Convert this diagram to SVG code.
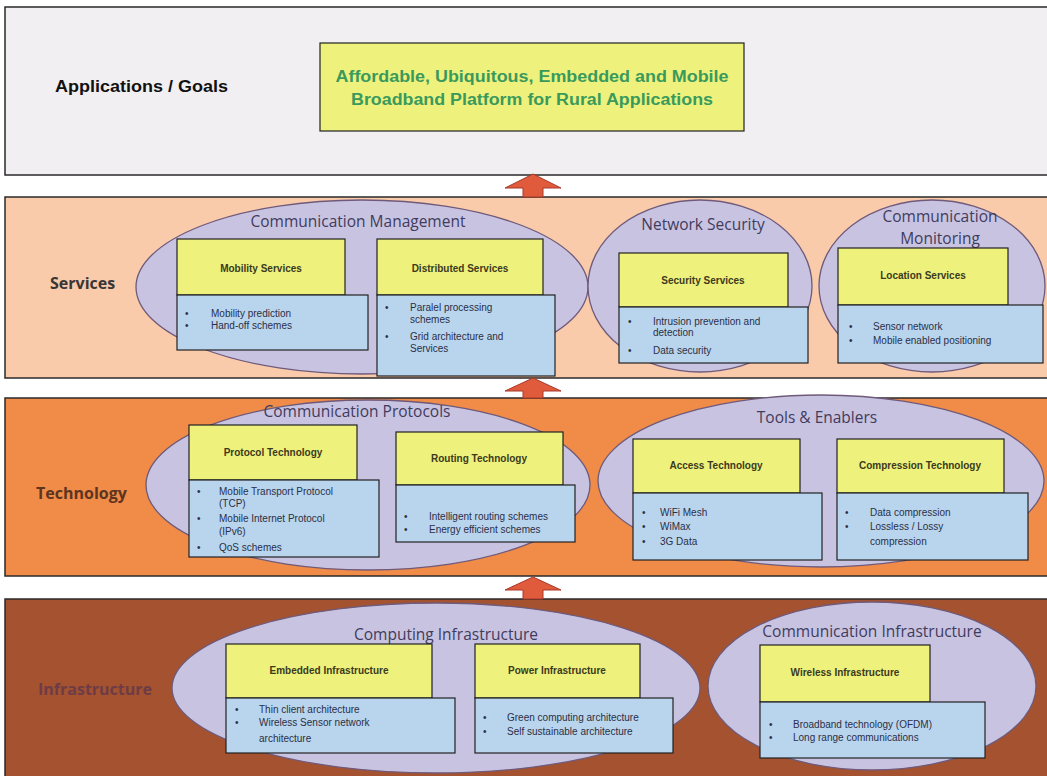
<svg xmlns="http://www.w3.org/2000/svg" width="1047" height="776" viewBox="0 0 1047 776">
  <style>
    .band { stroke: #2a2a2a; stroke-width: 1.5; }
    .cloud { fill: #c9c3e2; stroke: #6f5a7a; stroke-width: 1.3; }
    .cloud-label { font-family: "Open Sans", "Noto Sans", sans-serif; font-size: 15.5px; fill: #3f3c5c; text-anchor: middle; }
    .layer { font-family: "Open Sans", "Noto Sans", sans-serif; font-weight: bold; font-size: 16px; }
    .head { fill: #eef17c; stroke: #222; stroke-width: 1.2; }
    .head-text { font-family: "Liberation Sans", Arial, sans-serif; font-weight: bold; font-size: 10px; fill: #3b3a1c; text-anchor: middle; }
    .list { fill: #b9d5ee; stroke: #222; stroke-width: 1.2; }
    .item { font-family: "Liberation Sans", Arial, sans-serif; font-size: 10px; fill: #2b2f45; }
    .arrow { fill: #e05a3c; stroke: #a8382a; stroke-width: 1; }
  </style>

  <rect width="1047" height="776" fill="#ffffff"/>

  <!-- layer bands -->
  <g id="band-goals">
    <rect class="band" x="5" y="7" width="1050" height="168" fill="#f1eff1"/>
    <text x="55" y="92" font-family="Liberation Sans, Arial, sans-serif" font-weight="bold" font-size="17" fill="#111" textLength="173" lengthAdjust="spacingAndGlyphs">Applications / Goals</text>
  </g>
  <g id="band-services">
    <rect class="band" x="5" y="197" width="1050" height="181" fill="#f9cbab"/>
    <text class="layer" x="50" y="289" fill="#3a3636">Services</text>
  </g>
  <g id="band-technology">
    <rect class="band" x="5" y="398" width="1050" height="178" fill="#f08b48"/>
    <text class="layer" x="36" y="499" fill="#5c3520">Technology</text>
  </g>
  <g id="band-infrastructure">
    <rect class="band" x="5" y="599" width="1050" height="190" fill="#a4522f"/>
    <text class="layer" x="38" y="695" fill="#6e3c46" font-size="15">Infrastructure</text>
  </g>

  <!-- goal box -->
  <g id="goal">
    <rect class="head" x="320" y="43" width="424" height="88" stroke-width="1.5"/>
    <text x="532" y="82" font-family="Liberation Sans, Arial, sans-serif" font-weight="bold" font-size="16" fill="#3a9a5c" text-anchor="middle" textLength="393" lengthAdjust="spacingAndGlyphs">Affordable, Ubiquitous, Embedded and Mobile</text>
    <text x="532" y="105" font-family="Liberation Sans, Arial, sans-serif" font-weight="bold" font-size="16" fill="#3a9a5c" text-anchor="middle" textLength="362" lengthAdjust="spacingAndGlyphs">Broadband Platform for Rural Applications</text>
  </g>

  <!-- upward arrows between layers -->
  <g id="connectors">
    <path class="arrow" d="M533,174 L561,188 L543,188 L543,197 L523,197 L523,188 L505,188 Z"/>
    <path class="arrow" d="M533,378 L561,391 L543,391 L543,398 L523,398 L523,391 L505,391 Z"/>
    <path class="arrow" d="M533,577 L561,590 L543,590 L543,599 L523,599 L523,590 L505,590 Z"/>
  </g>

  <!-- Services layer -->
  <g id="communication-management">
    <ellipse class="cloud" cx="362" cy="287" rx="226" ry="87"/>
    <text class="cloud-label" x="358" y="227">Communication Management</text>
  </g>
  <g id="mobility-services">
    <rect class="head" x="177" y="239" width="168" height="56"/>
    <text class="head-text" x="261" y="272">Mobility Services</text>
    <rect class="list" x="177" y="295" width="191" height="55"/>
    <text class="item"><tspan x="185" y="317">•</tspan><tspan x="211" y="317">Mobility prediction</tspan><tspan x="185" y="329">•</tspan><tspan x="211" y="329">Hand-off schemes</tspan></text>
  </g>
  <g id="distributed-services">
    <rect class="head" x="377" y="239" width="166" height="56"/>
    <text class="head-text" x="460" y="272">Distributed Services</text>
    <rect class="list" x="377" y="295" width="178" height="81"/>
    <text class="item"><tspan x="385" y="311">•</tspan><tspan x="410" y="311">Paralel processing</tspan><tspan x="410" y="323">schemes</tspan><tspan x="385" y="340">•</tspan><tspan x="410" y="340">Grid architecture and</tspan><tspan x="410" y="352">Services</tspan></text>
  </g>

  <g id="network-security">
    <ellipse class="cloud" cx="700" cy="286" rx="112" ry="86"/>
    <text class="cloud-label" x="703" y="230">Network Security</text>
  </g>
  <g id="security-services">
    <rect class="head" x="619" y="253" width="169" height="54"/>
    <text class="head-text" x="703" y="284">Security Services</text>
    <rect class="list" x="619" y="307" width="189" height="56"/>
    <text class="item"><tspan x="628" y="325">•</tspan><tspan x="653" y="325">Intrusion prevention and</tspan><tspan x="653" y="336">detection</tspan><tspan x="628" y="354">•</tspan><tspan x="653" y="354">Data security</tspan></text>
  </g>

  <g id="communication-monitoring">
    <ellipse class="cloud" cx="932" cy="286" rx="113" ry="86"/>
    <text class="cloud-label" x="940" y="222">Communication</text>
    <text class="cloud-label" x="940" y="244">Monitoring</text>
  </g>
  <g id="location-services">
    <rect class="head" x="838" y="248" width="170" height="57"/>
    <text class="head-text" x="923" y="279">Location Services</text>
    <rect class="list" x="838" y="305" width="205" height="58"/>
    <text class="item"><tspan x="849" y="330">•</tspan><tspan x="873" y="330">Sensor network</tspan><tspan x="849" y="344">•</tspan><tspan x="873" y="344">Mobile enabled positioning</tspan></text>
  </g>

  <!-- Technology layer -->
  <g id="communication-protocols">
    <ellipse class="cloud" cx="368" cy="485" rx="222" ry="85"/>
    <text class="cloud-label" x="357" y="417">Communication Protocols</text>
  </g>
  <g id="protocol-technology">
    <rect class="head" x="189" y="425" width="168" height="55"/>
    <text class="head-text" x="273" y="456">Protocol Technology</text>
    <rect class="list" x="189" y="480" width="190" height="77"/>
    <text class="item"><tspan x="197" y="495">•</tspan><tspan x="219" y="495">Mobile Transport Protocol</tspan><tspan x="219" y="507">(TCP)</tspan><tspan x="197" y="522">•</tspan><tspan x="219" y="522">Mobile Internet Protocol</tspan><tspan x="219" y="535">(IPv6)</tspan><tspan x="197" y="551">•</tspan><tspan x="219" y="551">QoS schemes</tspan></text>
  </g>
  <g id="routing-technology">
    <rect class="head" x="396" y="432" width="167" height="53"/>
    <text class="head-text" x="479" y="462">Routing Technology</text>
    <rect class="list" x="396" y="485" width="179" height="57"/>
    <text class="item"><tspan x="404" y="520">•</tspan><tspan x="429" y="520">Intelligent routing schemes</tspan><tspan x="404" y="533">•</tspan><tspan x="429" y="533">Energy efficient schemes</tspan></text>
  </g>

  <g id="tools-enablers">
    <ellipse class="cloud" cx="821" cy="481" rx="223" ry="86"/>
    <text class="cloud-label" x="817" y="423">Tools &amp; Enablers</text>
  </g>
  <g id="access-technology">
    <rect class="head" x="633" y="439" width="167" height="54"/>
    <text class="head-text" x="716" y="469">Access Technology</text>
    <rect class="list" x="633" y="493" width="189" height="67"/>
    <text class="item"><tspan x="642" y="516">•</tspan><tspan x="660" y="516">WiFi Mesh</tspan><tspan x="642" y="530">•</tspan><tspan x="660" y="530">WiMax</tspan><tspan x="642" y="545">•</tspan><tspan x="660" y="545">3G Data</tspan></text>
  </g>
  <g id="compression-technology">
    <rect class="head" x="837" y="439" width="167" height="54"/>
    <text class="head-text" x="920" y="469">Compression Technology</text>
    <rect class="list" x="837" y="493" width="191" height="67"/>
    <text class="item"><tspan x="845" y="516">•</tspan><tspan x="870" y="516">Data compression</tspan><tspan x="845" y="530">•</tspan><tspan x="870" y="530">Lossless / Lossy</tspan><tspan x="870" y="545">compression</tspan></text>
  </g>

  <!-- Infrastructure layer -->
  <g id="computing-infrastructure">
    <ellipse class="cloud" cx="436" cy="688" rx="264" ry="85"/>
    <text class="cloud-label" x="446" y="640" fill="#2e2e3a">Computing Infrastructure</text>
  </g>
  <g id="embedded-infrastructure">
    <rect class="head" x="226" y="644" width="206" height="54"/>
    <text class="head-text" x="329" y="674">Embedded Infrastructure</text>
    <rect class="list" x="226" y="698" width="229" height="55"/>
    <text class="item"><tspan x="235" y="713">•</tspan><tspan x="259" y="713">Thin client architecture</tspan><tspan x="235" y="726">•</tspan><tspan x="259" y="726">Wireless Sensor network</tspan><tspan x="259" y="742">architecture</tspan></text>
  </g>
  <g id="power-infrastructure">
    <rect class="head" x="475" y="644" width="165" height="54"/>
    <text class="head-text" x="557" y="674">Power Infrastructure</text>
    <rect class="list" x="475" y="698" width="198" height="55"/>
    <text class="item"><tspan x="483" y="721">•</tspan><tspan x="507" y="721">Green computing architecture</tspan><tspan x="483" y="735">•</tspan><tspan x="507" y="735">Self sustainable architecture</tspan></text>
  </g>

  <g id="communication-infrastructure">
    <ellipse class="cloud" cx="872" cy="686" rx="164" ry="84"/>
    <text class="cloud-label" x="872" y="637" fill="#55556a">Communication Infrastructure</text>
  </g>
  <g id="wireless-infrastructure">
    <rect class="head" x="760" y="645" width="170" height="57"/>
    <text class="head-text" x="845" y="676">Wireless Infrastructure</text>
    <rect class="list" x="760" y="702" width="225" height="56"/>
    <text class="item"><tspan x="769" y="728">•</tspan><tspan x="793" y="728">Broadband technology (OFDM)</tspan><tspan x="769" y="741">•</tspan><tspan x="793" y="741">Long range communications</tspan></text>
  </g>
</svg>
